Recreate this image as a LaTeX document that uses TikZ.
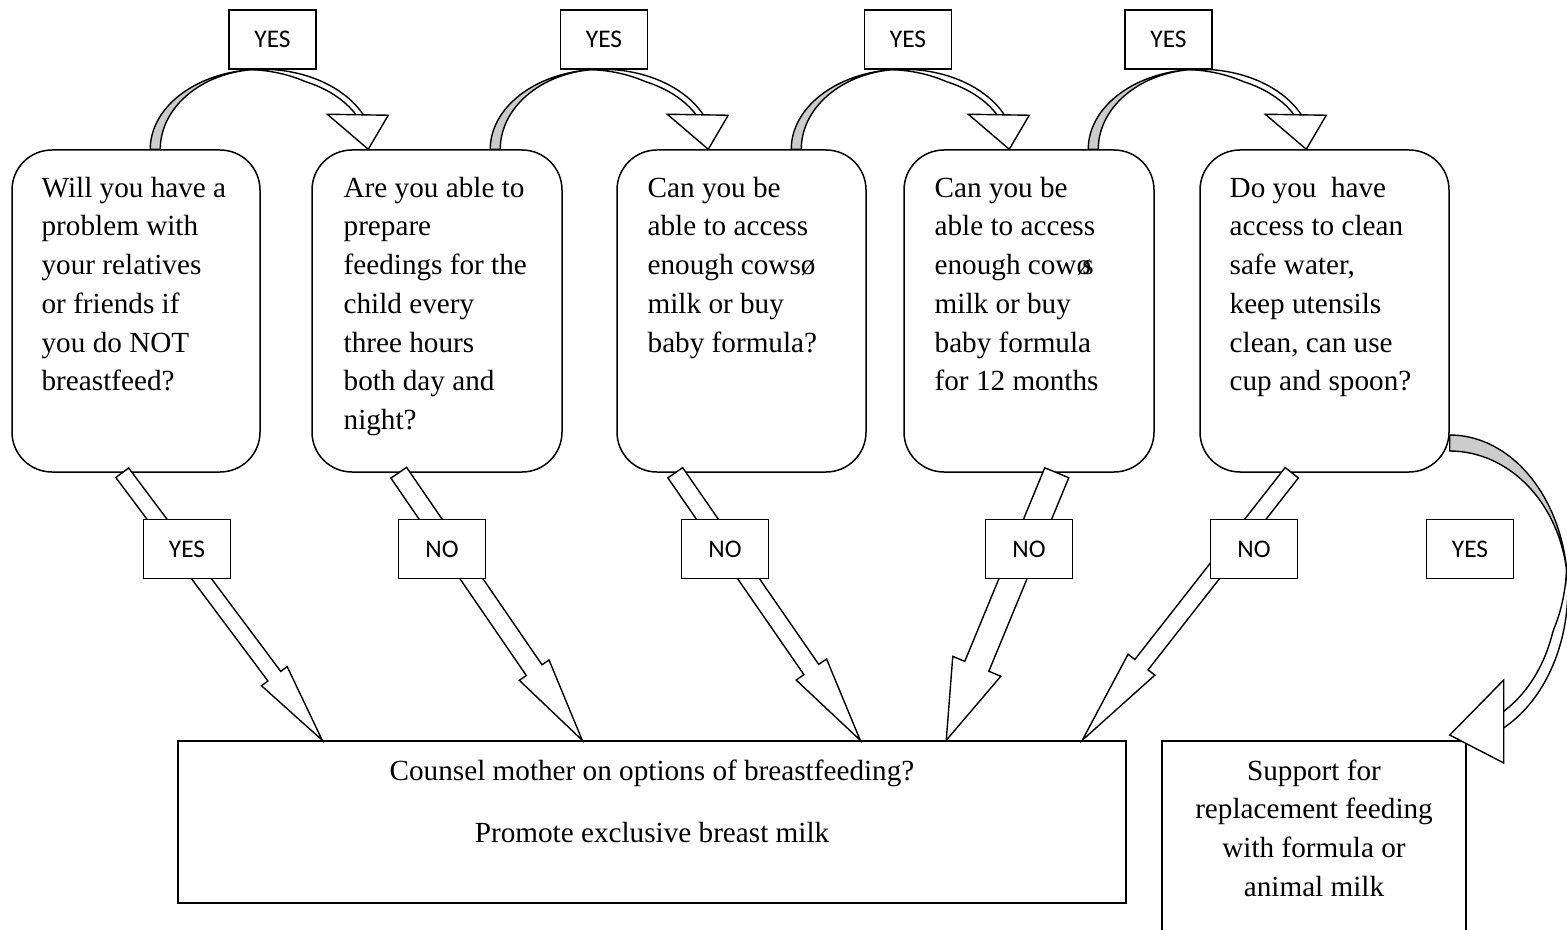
\documentclass[tikz,border=0pt]{standalone}
\usepackage{fontspec}
\setmainfont{Liberation Serif}
\newfontfamily\labfont{Carlito}
\usetikzlibrary{calc}
\tikzset{
  qbox/.style={draw, line width=0.75pt, rounded corners=20pt, minimum width=#1, minimum height=161pt, inner sep=0pt},
  qtext/.style={anchor=base west, inner sep=0pt, font=\fontsize{14.6}{19.35}\selectfont},
  ctext/.style={anchor=base, inner sep=0pt, font=\fontsize{14.6}{19.35}\selectfont},
  lab/.style={draw, fill=white, line width=0.75pt, minimum width=43.5pt, minimum height=29.5pt, inner sep=0pt, font=\labfont\fontsize{12.7}{15}\selectfont},
  blk/.style={draw, fill=white, line width=0.7pt, line join=miter},
  backface/.style={draw, fill=gray!40, line width=0.7pt},
  plainbox/.style={draw, line width=0.75pt, inner sep=0pt}
}
\newcommand\blockarr[5]{%
  \coordinate (ba-e) at ($(#2)!#5!(#1)$);
  \draw[blk] ($(#1)!#3!90:(#2)$) -- ($(ba-e)!#3!-90:(#1)$) -- ($(ba-e)!#4!-90:(#1)$) -- (#2)
    -- ($(ba-e)!#4!90:(#1)$) -- ($(ba-e)!#3!90:(#1)$) -- ($(#1)!#3!-90:(#2)$) -- cycle;
}
\newcommand\topcurve[1]{%
  \begin{scope}[shift={(#1)}]
    \draw[blk] plot[domain=264:338, samples=40] ({107+112*cos(\x)},{80*sin(\x)})
      -- plot[domain=338:264, samples=40] ({107+(112-6*min(1,max(0,(\x-264)/30)))*cos(\x)},{(80-6*min(1,max(0,(\x-264)/30)))*sin(\x)}) -- cycle;
    \draw[backface] plot[domain=180:270, samples=40] ({107+112*cos(\x)},{80*sin(\x)})
      -- plot[domain=270:180, samples=40] ({107+102*cos(\x)},{80*sin(\x)}) -- cycle;
    \draw[blk] (172,-35) -- (233,-34) -- (213,0) -- cycle;
  \end{scope}
}
\begin{document}
\begin{tikzpicture}[x=0.5pt, y=-0.5pt]
\useasboundingbox (0,0) rectangle (1567,930);

% question boxes
\node[qbox=124pt]   (q1) at (136,311) {};
\node[qbox=125pt]   (q2) at (437,311) {};
\node[qbox=124.5pt] (q3) at (741.5,311) {};
\node[qbox=125pt]   (q4) at (1029,311) {};
\node[qbox=124.5pt] (q5) at (1324.5,311) {};

\node[qtext] (q1t) at ($(q1.north west)+(30,48)$) {\parbox[t]{120pt}{Will you have a\\problem with\\your relatives\\or friends if\\you do NOT\\breastfeed?}};
\node[qtext] (q2t) at ($(q2.north west)+(32,48)$) {\parbox[t]{120pt}{Are you able to\\prepare\\feedings for the\\child every\\three hours\\both day and\\night?}};
\node[qtext] (q3t) at ($(q3.north west)+(31,48)$) {\parbox[t]{120pt}{Can you be\\able to access\\enough cowsø\\milk or buy\\baby formula?}};
\node[qtext] (q4t) at ($(q4.north west)+(31,48)$) {\parbox[t]{120pt}{Can you be\\able to access\\enough cowø\kern-0.3em s\\milk or buy\\baby formula\\for 12 months}};
\node[qtext] (q5t) at ($(q5.north west)+(30,48)$) {\parbox[t]{120pt}{Do you\ \ have\\access to clean\\safe water,\\keep utensils\\clean, can use\\cup and spoon?}};

% result boxes
\node[plainbox, minimum width=474pt, minimum height=81pt] (c) at (652,822) {};
\node[plainbox, minimum width=152pt, minimum height=100pt] (s) at (1314,841) {};
\node[ctext] (ct) at ($(c.north)+(0,40)$) {\parbox[t]{400pt}{\centering Counsel mother on options of breastfeeding?\\[11.65pt]Promote exclusive breast milk}};
\node[ctext] (st) at ($(s.north)+(0,40)$) {\parbox[t]{150pt}{\centering Support for\\replacement feeding\\with formula or\\animal milk}};

% curved YES arrows on top
\coordinate (c1s) at ($(q1.north west)+(144,0)$);
\coordinate (c2s) at ($(q2.north west)+(184,0)$);
\coordinate (c3s) at ($(q3.north west)+(180,0)$);
\coordinate (c4s) at ($(q4.north west)+(190,0)$);
\topcurve{c1s}
\topcurve{c2s}
\topcurve{c3s}
\topcurve{c4s}

% curved YES arrow at right
\coordinate (c5c) at ($(q5.east)+(0,279)$);
\begin{scope}[shift={(c5c)}]
  \draw[blk] plot[domain=352:424, samples=40] ({118*cos(\x)},{155*sin(\x)})
    -- plot[domain=424:352, samples=40] ({(118-10*min(1,max(0,(\x-352)/25)))*cos(\x)},{(155-15*min(1,max(0,(\x-352)/25)))*sin(\x)}) -- cycle;
  \draw[backface] plot[domain=270:360, samples=40] ({118*cos(\x)},{155*sin(\x)})
    -- plot[domain=360:270, samples=40] ({118*cos(\x)},{139*sin(\x)}) -- cycle;
  \draw[blk] (0,145) -- (54,90) -- (54,173) -- cycle;
\end{scope}

% straight block arrows
\coordinate (a1s) at ($(q1.south west)+(111,0)$);
\coordinate (a2s) at ($(q2.south west)+(87.5,0)$);
\coordinate (a3s) at ($(q3.south west)+(59,0)$);
\coordinate (a4s) at ($(q4.south west)+(153.5,0)$);
\coordinate (a5s) at ($(q5.south west)+(92.5,0)$);
\coordinate (a1t) at ($(c.north west)+(145,0)$);
\coordinate (a2t) at ($(c.north west)+(405,0)$);
\coordinate (a3t) at ($(c.north west)+(683,0)$);
\coordinate (a4t) at ($(c.north west)+(769,0)$);
\coordinate (a5t) at ($(c.north west)+(905,0)$);
\blockarr{a1s}{a1t}{4pt}{8pt}{40pt}
\blockarr{a2s}{a2t}{4.75pt}{9pt}{42.5pt}
\blockarr{a3s}{a3t}{4.5pt}{9.25pt}{43pt}
\blockarr{a4s}{a4t}{6.5pt}{13pt}{40pt}
\blockarr{a5s}{a5t}{4.2pt}{8.5pt}{48pt}

% labels
\node[lab] (y1) at (272.5,39.5) {YES};
\node[lab] (y2) at (604,39.5) {YES};
\node[lab] (y3) at (908,39.5) {YES};
\node[lab] (y4) at (1168.5,39.5) {YES};
\node[lab] (b1) at (187,549) {YES};
\node[lab] (b2) at (442,549) {NO};
\node[lab] (b3) at (725,549) {NO};
\node[lab] (b4) at (1029,549) {NO};
\node[lab] (b5) at (1254,549) {NO};
\node[lab] (b6) at (1470,549) {YES};
\end{tikzpicture}
\end{document}
